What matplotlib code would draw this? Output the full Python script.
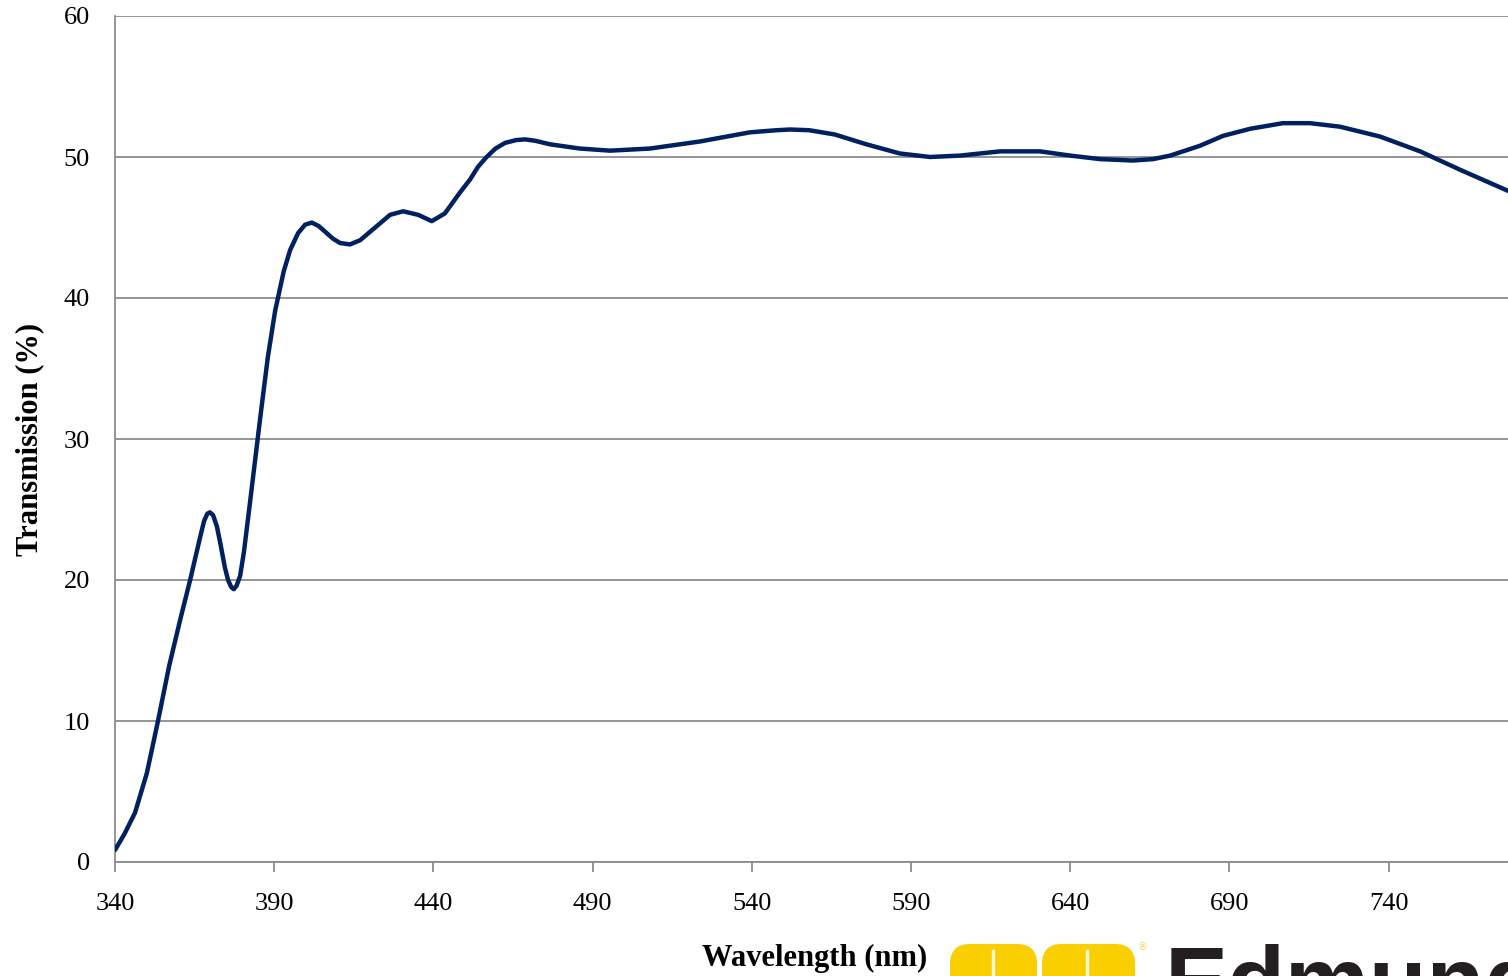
import numpy as np
import matplotlib
matplotlib.use('Agg')
from matplotlib import pyplot as plt
from matplotlib.patches import FancyBboxPatch

# wavelength (nm) and transmission (%)
wavelength = [340, 343, 346.3, 350, 353.5, 357, 360.5, 363.6, 366.7, 368, 369, 369.8,
              370.8, 372, 373, 374.5, 375.5, 376.5, 377.3, 378.2, 379.3, 380.5, 382.4,
              385.5, 388, 390.3, 393, 395, 397.5, 399.7, 401.8, 404, 406, 408.5, 410.7,
              413.8, 417, 421.7, 426.4, 430.5, 435.2, 439.5, 443.6, 448.4, 451.5, 454,
              456.7, 459.5, 462.5, 466, 468.8, 472, 476.6, 486, 495.5, 508, 523.7, 539.4,
              547.8, 552, 558, 566, 576, 586.5, 596, 605.4, 618, 630.5, 640, 649.4, 659.7,
              666, 671.4, 680.8, 688, 696.5, 706.8, 715.3, 724.7, 737.3, 749.9, 762.4, 777.5]
transmission = [0.85, 2.0, 3.5, 6.3, 10.0, 13.9, 17.2, 20.0, 23.0, 24.2, 24.7, 24.8,
                24.6, 23.8, 22.7, 20.9, 20.0, 19.5, 19.35, 19.6, 20.3, 22.0, 25.5,
                31.3, 35.8, 39.1, 41.9, 43.4, 44.6, 45.2, 45.35, 45.1, 44.7, 44.2, 43.9,
                43.8, 44.1, 45.0, 45.9, 46.15, 45.9, 45.45, 46.0, 47.5, 48.4, 49.3,
                50.0, 50.6, 51.0, 51.2, 51.25, 51.15, 50.9, 50.6, 50.45, 50.6, 51.1, 51.75,
                51.9, 51.95, 51.9, 51.6, 50.9, 50.25, 50.0, 50.1, 50.4, 50.4, 50.1, 49.85, 49.75,
                49.85, 50.1, 50.8, 51.5, 52.0, 52.4, 52.4, 52.15, 51.45, 50.4, 49.1, 47.6]

x_ticks = [340, 390, 440, 490, 540, 590, 640, 690, 740]
y_ticks = [0, 10, 20, 30, 40, 50, 60]

plt.rcParams['font.family'] = ['Liberation Serif', 'DejaVu Serif']

fig = plt.figure(figsize=(15.08, 9.76), dpi=100)
ax = fig.add_axes([115 / 1508, 114 / 976, 1 - 115 / 1508, 846 / 976])

ax.plot(wavelength, transmission, color='#002060', linewidth=3.2,
        solid_capstyle='round', solid_joinstyle='round', zorder=3)

ax.set_xlim(340, 777.5)
ax.set_ylim(0, 60)
ax.set_xticks(x_ticks)
ax.set_yticks(y_ticks)
ax.grid(axis='y', color='#8c8c8c', linewidth=1.3)
ax.set_axisbelow(True)
for side in ['top', 'right']:
    ax.spines[side].set_visible(False)
for side in ['left', 'bottom']:
    ax.spines[side].set_color('#8c8c8c')
    ax.spines[side].set_linewidth(1.3)
ax.tick_params(axis='x', direction='out', length=7, width=1.3, color='#8c8c8c',
               labelsize=19, pad=15)
ax.tick_params(axis='y', length=0, labelsize=19, pad=18)

ax.set_ylabel('Transmission (%)', fontsize=22, fontweight='bold', labelpad=14)
fig.text(815 / 1508, 1 - 958 / 976, 'Wavelength (nm)', fontsize=22, fontweight='bold',
         ha='center', va='center')

# partial Edmund logo at the bottom edge, drawn in pixel units
logo = fig.add_axes([0, 0, 1, 1], zorder=-1)
logo.set_xlim(0, 1508)
logo.set_ylim(976, 0)
logo.axis('off')
yellow = '#f9cf00'
for x0, x1 in [(950, 1037), (1042, 1135)]:
    logo.add_patch(FancyBboxPatch((x0, 944), x1 - x0, 60,
                                  boxstyle='round,pad=0,rounding_size=20',
                                  facecolor=yellow, edgecolor='none'))
for xl in [993, 1087]:
    logo.plot([xl, xl], [951, 980], color='#fff7d0', linewidth=2.5)
logo.text(1138, 947, '®', fontsize=7, color='#f2d560', ha='left', va='center',
          family=['DejaVu Sans'])
logo.text(1165, 1013, 'Edmund', fontsize=68, fontweight='bold', color='#231f20',
          ha='left', va='baseline', family=['Liberation Sans', 'DejaVu Sans'])

fig.savefig('out.png', dpi=100)
